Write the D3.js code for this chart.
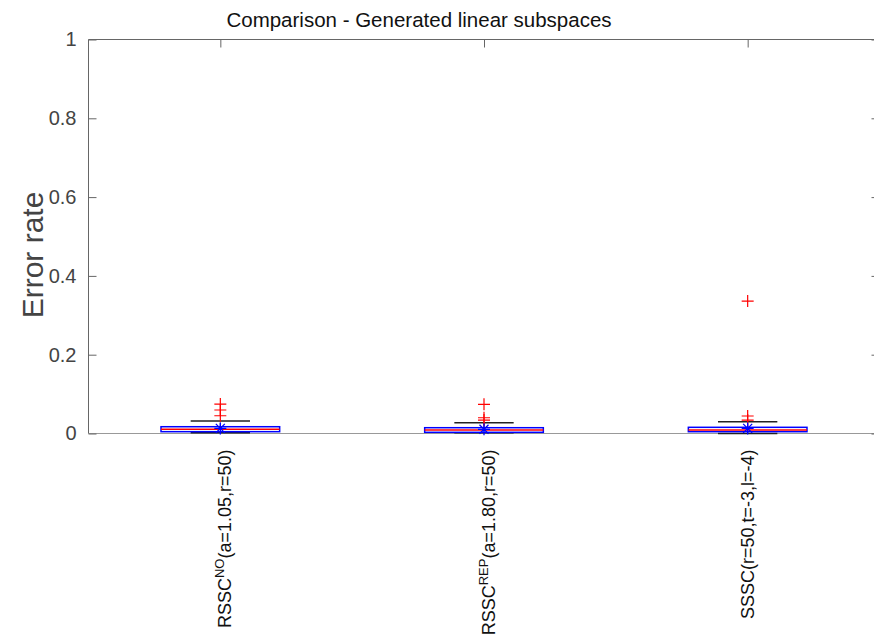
<!DOCTYPE html>
<html><head><meta charset="utf-8">
<script src="https://cdn.jsdelivr.net/npm/d3@7"></script>
<style>body{margin:0;background:#fff;} svg{display:block;font-family:"Liberation Sans",Arial,sans-serif;}</style>
</head><body><svg id="c" width="874" height="637"></svg>
<script>
const categories = ["RSSC_NO", "RSSC_REP", "SSSC"];
const labelMain = ["RSSC", "RSSC", "SSSC(r=50,t=-3,l=-4)"];
const labelSup = ["NO", "REP", ""];
const labelRest = ["(a=1.05,r=50)", "(a=1.80,r=50)", ""];
const q1 = [0.0046, 0.0030, 0.0046];
const median = [0.0106, 0.0089, 0.0089];
const q3 = [0.0172, 0.0147, 0.0157];
const whiskerLow = [0.002, 0.002, 0.0];
const whiskerHigh = [0.0317, 0.0274, 0.030];
const means = [0.013, 0.0106, 0.013];
const outliers = [[0.0748, 0.0596, 0.045], [0.074, 0.040, 0.034], [0.336, 0.0444, 0.034]];
const yTicks = [0, 0.2, 0.4, 0.6, 0.8, 1];

const svg = d3.select("#c");
const pL = 88.5, pT = 39.5, pB = 433.5, pR = 879.5;
const x = d3.scaleLinear().domain([0.5, 3.5]).range([pL, pR]);
const y = d3.scaleLinear().domain([0, 1]).range([pB, pT]);
const axisColor = "#666";

svg.append("line").attr("x1", pL).attr("x2", pR).attr("y1", pT).attr("y2", pT).attr("stroke", axisColor);
svg.append("line").attr("x1", pL).attr("x2", pR).attr("y1", pB).attr("y2", pB).attr("stroke", "#999");
svg.append("line").attr("x1", pL).attr("x2", pL).attr("y1", pT).attr("y2", pB).attr("stroke", axisColor);
svg.append("line").attr("x1", pR).attr("x2", pR).attr("y1", pT).attr("y2", pB).attr("stroke", axisColor);

const yAxis = d3.axisLeft(y).tickValues(yTicks).tickSize(-8).tickPadding(12).tickFormat(d => d3.format("")(d));
const gy = svg.append("g").attr("transform", `translate(${pL},0)`).call(yAxis);
gy.select(".domain").remove();
gy.selectAll(".tick line").attr("stroke", axisColor);
gy.selectAll(".tick text").attr("fill", "#444").style("font-size", "20px").attr("font-family", "Liberation Sans, Arial, sans-serif");
const yAxisR = d3.axisRight(y).tickValues(yTicks).tickSize(-8).tickFormat("");
const gyr = svg.append("g").attr("transform", `translate(${pR},0)`).call(yAxisR);
gyr.select(".domain").remove();
gyr.selectAll(".tick line").attr("stroke", axisColor);
const xAxisT = d3.axisTop(x).tickValues([1, 2, 3]).tickSize(-8).tickFormat("");
const gxt = svg.append("g").attr("transform", `translate(0,${pT})`).call(xAxisT);
gxt.select(".domain").remove();
gxt.selectAll(".tick line").attr("stroke", axisColor);

svg.append("text").attr("x", 419).attr("y", 27).attr("text-anchor", "middle")
  .style("font-size", "20.5px").attr("fill", "#111").text("Comparison - Generated linear subspaces");
svg.append("text").attr("transform", `translate(43,255) rotate(-90)`).attr("text-anchor", "middle")
  .style("font-size", "30px").attr("fill", "#444").text("Error rate");

categories.forEach((c, i) => {
  const off = labelSup[i] ? 10.5 : 6.5;
  const t = svg.append("text").attr("transform", `translate(${x(i + 1) + off},${pB + 16}) rotate(-90)`)
    .attr("text-anchor", "end").style("font-size", "18px").attr("fill", "#111");
  t.append("tspan").text(labelMain[i]);
  if (labelSup[i]) {
    t.append("tspan").attr("dy", -7).style("font-size", "13px").text(labelSup[i]);
    t.append("tspan").attr("dy", 7).text(labelRest[i]);
  }
});

const boxW = 0.45, capW = 0.225;
const g = svg.append("g");
categories.forEach((c, i) => {
  const cx = i + 1;
  g.append("line").attr("x1", x(cx)).attr("x2", x(cx)).attr("y1", y(q3[i])).attr("y2", y(whiskerHigh[i])).attr("stroke", "#000").attr("stroke-dasharray", "4,2");
  g.append("line").attr("x1", x(cx)).attr("x2", x(cx)).attr("y1", y(q1[i])).attr("y2", y(whiskerLow[i])).attr("stroke", "#000").attr("stroke-dasharray", "4,2");
  [whiskerHigh[i], whiskerLow[i]].forEach(v => {
    g.append("line").attr("x1", x(cx - capW / 2)).attr("x2", x(cx + capW / 2)).attr("y1", y(v)).attr("y2", y(v)).attr("stroke", "#222").attr("stroke-width", 1.5);
  });
  g.append("rect").attr("x", x(cx - boxW / 2)).attr("width", x(cx + boxW / 2) - x(cx - boxW / 2))
    .attr("y", y(q3[i])).attr("height", y(q1[i]) - y(q3[i])).attr("fill", "none").attr("stroke", "#0000ff").attr("stroke-width", 1.5);
  g.append("line").attr("x1", x(cx - boxW / 2)).attr("x2", x(cx + boxW / 2)).attr("y1", y(median[i])).attr("y2", y(median[i])).attr("stroke", "#ff0000").attr("stroke-width", 1.5);
  outliers[i].forEach(v => {
    const px = x(cx), py = y(v);
    g.append("path").attr("d", `M${px - 6},${py}H${px + 6}M${px},${py - 6}V${py + 6}`).attr("stroke", "#ff0000").attr("stroke-width", 1.2);
  });
  const mx = x(cx), my = y(means[i]);
  g.append("path").attr("d", `M${mx - 6},${my}H${mx + 6}M${mx},${my - 6}V${my + 6}M${mx - 4.5},${my - 4.5}L${mx + 4.5},${my + 4.5}M${mx - 4.5},${my + 4.5}L${mx + 4.5},${my - 4.5}`)
    .attr("stroke", "#0000ff").attr("stroke-width", 1.3);
});
</script></body></html>
